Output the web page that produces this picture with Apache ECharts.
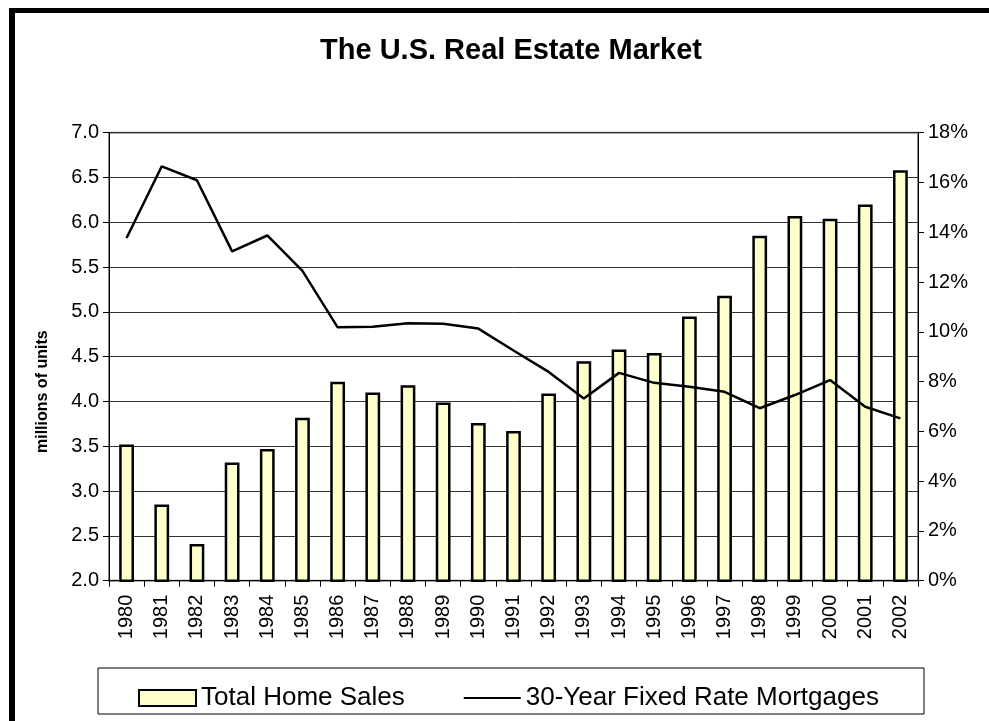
<!DOCTYPE html>
<html>
<head>
<meta charset="utf-8">
<script src="https://cdn.jsdelivr.net/npm/echarts@6/dist/echarts.min.js"></script>
<style>
html,body{margin:0;padding:0;background:#fff;}
#c{width:989px;height:721px;}
</style>
</head>
<body>
<div id="c"></div>
<script>
var years = ['1980','1981','1982','1983','1984','1985','1986','1987','1988','1989','1990','1991','1992','1993','1994','1995','1996','1997','1998','1999','2000','2001','2002'];
var homeSales = [3.52, 2.85, 2.41, 3.32, 3.47, 3.82, 4.22, 4.10, 4.18, 3.99, 3.76, 3.67, 4.09, 4.45, 4.58, 4.54, 4.95, 5.18, 5.85, 6.07, 6.04, 6.20, 6.58];
var mortgageRates = [13.77, 16.65, 16.09, 13.23, 13.87, 12.45, 10.18, 10.20, 10.34, 10.32, 10.13, 9.25, 8.39, 7.32, 8.35, 7.95, 7.79, 7.59, 6.93, 7.46, 8.06, 6.99, 6.52];

var FONT = 'Liberation Sans, Arial, sans-serif';
var chart = echarts.init(document.getElementById('c'));
chart.setOption({
  animation: false,
  backgroundColor: '#fff',
  title: {
    text: 'The U.S. Real Estate Market',
    left: 506, textAlign: 'center', top: 31,
    textStyle: {fontFamily: FONT, fontSize: 29, fontWeight: 'bold', color: '#000'}
  },
  graphic: [
    {type: 'rect', shape: {x: 9, y: 8, width: 6, height: 713}, style: {fill: '#000'}, silent: true},
    {type: 'rect', shape: {x: 9, y: 8, width: 980, height: 5}, style: {fill: '#000'}, silent: true},
    {type: 'rect', shape: {x: 98, y: 668, width: 826, height: 46}, style: {fill: '#fff', stroke: '#000', lineWidth: 1}, silent: true, z: 0}
  ],
  legend: {
    left: 133, top: 680, itemGap: 58, itemWidth: 57, itemHeight: 16,
    textStyle: {fontFamily: FONT, fontSize: 26, color: '#000'},
    data: [
      {name: 'Total Home Sales', icon: 'rect'},
      {name: '30-Year Fixed Rate Mortgages', itemStyle: {opacity: 0, borderWidth: 0}}
    ]
  },
  grid: {left: 109, right: 71, top: 132.7, bottom: 140.3, containLabel: false,
    show: true, borderColor: '#888', borderWidth: 2, backgroundColor: 'transparent'},
  xAxis: {
    type: 'category', data: years, boundaryGap: true,
    axisLine: {lineStyle: {color: '#000', width: 1}},
    axisTick: {show: true, interval: 0, length: 6, lineStyle: {color: '#000'}},
    axisLabel: {interval: 0, rotate: 90, margin: 14, fontFamily: FONT, fontSize: 20, color: '#000'}
  },
  yAxis: [
    {
      type: 'value', min: 2, max: 7, interval: 0.5,
      name: 'millions of units', nameLocation: 'middle', nameGap: 58,
      nameTextStyle: {fontFamily: FONT, fontSize: 16, fontWeight: 'bold', color: '#000', padding: [0, 70, 0, 0]},
      axisLine: {show: true, lineStyle: {color: '#000', width: 1}},
      axisTick: {show: true, length: 6, lineStyle: {color: '#000'}},
      axisLabel: {margin: 10, fontFamily: FONT, fontSize: 20, color: '#000', formatter: function(v){return v.toFixed(1);}},
      splitLine: {show: true, lineStyle: {color: '#333', width: 1}}
    },
    {
      type: 'value', min: 0, max: 18, interval: 2,
      axisLine: {show: true, lineStyle: {color: '#000', width: 1}},
      axisTick: {show: true, length: 6, lineStyle: {color: '#000'}},
      axisLabel: {margin: 10, fontFamily: FONT, fontSize: 20, color: '#000', formatter: '{value}%'},
      splitLine: {show: false}
    }
  ],
  series: [
    {
      name: 'Total Home Sales', type: 'bar', data: homeSales, barWidth: '42%', yAxisIndex: 0,
      itemStyle: {color: '#FFFFCC', borderColor: '#000', borderWidth: 2.5}
    },
    {
      name: '30-Year Fixed Rate Mortgages', type: 'line', data: mortgageRates, yAxisIndex: 1,
      symbol: 'none', showSymbol: false, z: 5,
      lineStyle: {color: '#000', width: 2.5},
      itemStyle: {color: '#000'}
    }
  ]
});
</script>
</body>
</html>
